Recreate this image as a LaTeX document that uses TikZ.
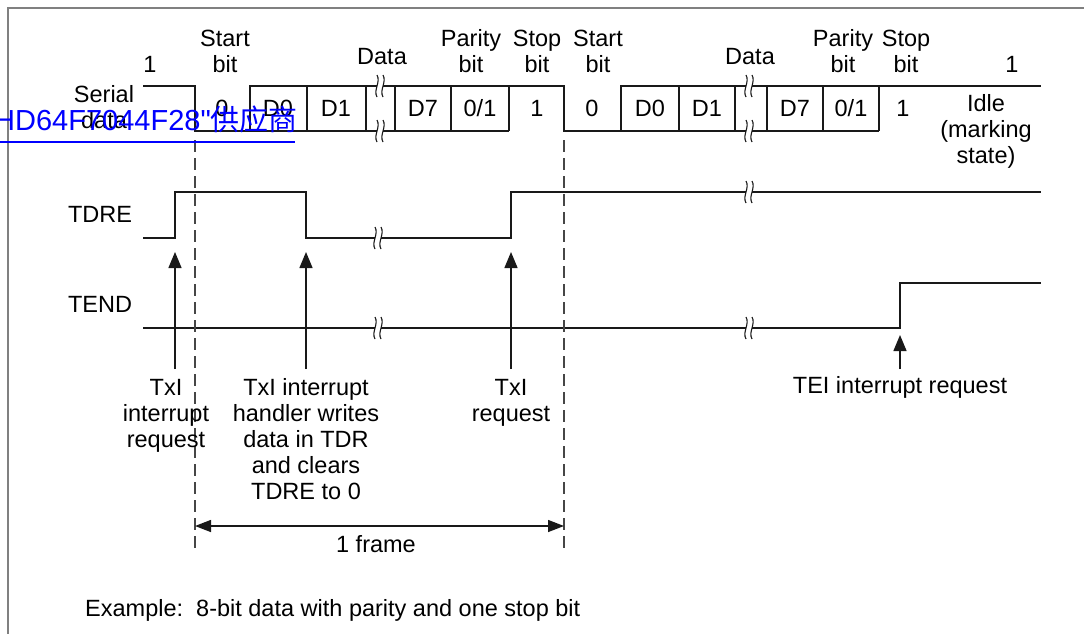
\documentclass[tikz,border=0pt]{standalone}
\usepackage{fontspec}
\setmainfont{Liberation Sans}
\newfontfamily\linkfont{Liberation Sans}
\newfontfamily\cjkfont{Noto Sans CJK SC}
\usepackage{tikz}
\usetikzlibrary{arrows.meta}
\definecolor{sigline}{RGB}{25,25,25}
\definecolor{guideline}{RGB}{70,70,70}
\definecolor{frameline}{RGB}{128,128,128}
\definecolor{linkblue}{RGB}{0,0,255}
\tikzset{
  sig/.style={line width=1.6pt,draw=sigline,line join=miter},
  guide/.style={line width=1.4pt,draw=guideline,dash pattern=on 12pt off 6pt},
  req/.style={line width=1.4pt,draw=sigline,-{Triangle[length=16pt,width=13pt]}},
  span/.style={line width=1.4pt,draw=sigline,{Triangle[length=16pt,width=12pt]}-{Triangle[length=16pt,width=12pt]}},
  lbl/.style={font=\fontsize{23.5}{26}\selectfont,align=center,inner sep=0pt},
  brk/.pic={
    \fill[white] (-3,-10) rectangle (3,10);
    \draw[line width=1.1pt,sigline] (-3,-11) .. controls (1,-4) and (-7,4) .. (-3,11);
    \draw[line width=1.1pt,sigline] (3,-11) .. controls (7,-4) and (-1,4) .. (3,11);
  },
}

\begin{document}
\begin{tikzpicture}[x=1pt,y=-1pt]
  \useasboundingbox (0,0) rectangle (1084,634);
  % frame
  \draw[frameline,line width=1.5pt] (8,634) -- (8,8) -- (1084,8);
  % row labels (base = last line)
  \node[lbl,anchor=base] (serlbl)  at (104,128) {Serial\\data};
  \node[lbl,anchor=base] (tdrelbl) at (100,222) {TDRE};
  \node[lbl,anchor=base] (tendlbl) at (100,312) {TEND};
  % field labels above the frame
  \node[lbl,anchor=base] (one1)   at (150,73)  {1};
  \node[lbl,anchor=base] (start1) at (225,73)  {Start\\bit};
  \node[lbl,anchor=base] (data1)  at (382,65)  {Data};
  \node[lbl,anchor=base] (par1)   at (471,73)  {Parity\\bit};
  \node[lbl,anchor=base] (stop1)  at (537,73)  {Stop\\bit};
  \node[lbl,anchor=base] (start2) at (598,73)  {Start\\bit};
  \node[lbl,anchor=base] (data2)  at (750,65)  {Data};
  \node[lbl,anchor=base] (par2)   at (843,73)  {Parity\\bit};
  \node[lbl,anchor=base] (stop2)  at (906,73)  {Stop\\bit};
  \node[lbl,anchor=base] (one2)   at (1012,73) {1};
  % bit values
  \foreach \x/\t [count=\i] in {222/0,278/D0,336/D1,423/D7,480/{0/1},537/1,
                                592/0,650/D0,707/D1,795/D7,851/{0/1},903/1}
    \node[lbl,anchor=base] (bit\i) at (\x,116.5) {\t};
  \node[lbl,anchor=base] (idle) at (986,163) {Idle\\(marking\\state)};
  % serial data waveform
  \draw[sig] (143,86) -- (195,86) -- (195,131) -- (509,131);
  \draw[sig] (250,131) -- (250,86) -- (564,86) -- (564,131) -- (879,131);
  \draw[sig] (621,131) -- (621,86) -- (1041,86);
  \foreach \x in {307,366,395,451,509,679,735,767,823,879}
    \draw[sig] (\x,86) -- (\x,131);
  % TDRE and TEND
  \draw[sig] (143,238) -- (175,238) -- (175,192) -- (306,192) -- (306,238)
    -- (511,238) -- (511,192) -- (1041,192);
  \draw[sig] (143,328) -- (900,328) -- (900,283) -- (1041,283);
  % breaks
  \foreach \x/\y in {380/86,380/131,749/86,749/131,378/238,749/192,378/328,749/328}
    \pic at (\x,\y) {brk};
  % frame boundaries
  \draw[guide] (195,140) -- (195,548);
  \draw[guide] (564,140) -- (564,548);
  % interrupt requests
  \node[lbl,anchor=base] (txilbl)  at (166,447) {TxI\\interrupt\\request};
  \node[lbl,anchor=base] (wrlbl)   at (306,499) {TxI interrupt\\handler writes\\data in TDR\\and clears\\TDRE to 0};
  \node[lbl,anchor=base] (txrlbl)  at (511,421) {TxI\\request};
  \node[lbl,anchor=base] (teilbl)  at (900,393) {TEI interrupt request};
  \coordinate (txifoot) at (175,369);  \coordinate (txitip) at (175,252);
  \coordinate (wrfoot)  at (306,369);  \coordinate (wrtip)  at (306,252);
  \coordinate (txrfoot) at (511,369);  \coordinate (txrtip) at (511,252);
  \coordinate (teifoot) at (900,369);  \coordinate (teitip) at (900,335);
  \draw[req] (txifoot) -- (txitip);
  \draw[req] (wrfoot) -- (wrtip);
  \draw[req] (txrfoot) -- (txrtip);
  \draw[req] (teifoot) -- (teitip);
  % one frame
  \coordinate (frl) at (195,526);
  \coordinate (frr) at (564,526);
  \draw[span] (frl) -- (frr);
  \node[lbl,anchor=base] (framelbl) at (376,552) {1 frame};
  \node[lbl,anchor=base west] (example) at (85,616) {Example:\ \ 8-bit data with parity and one stop bit};
  % link overlay
  \node[anchor=base west,inner sep=0pt,text=linkblue,font=\linkfont\fontsize{29}{30}\selectfont]
    (wmark) at (-6,130) {HD64F7044F28"{\cjkfont 供应商}};
  \draw[linkblue,line width=1.5pt] (0,142) -- (295,142);
\end{tikzpicture}
\end{document}
